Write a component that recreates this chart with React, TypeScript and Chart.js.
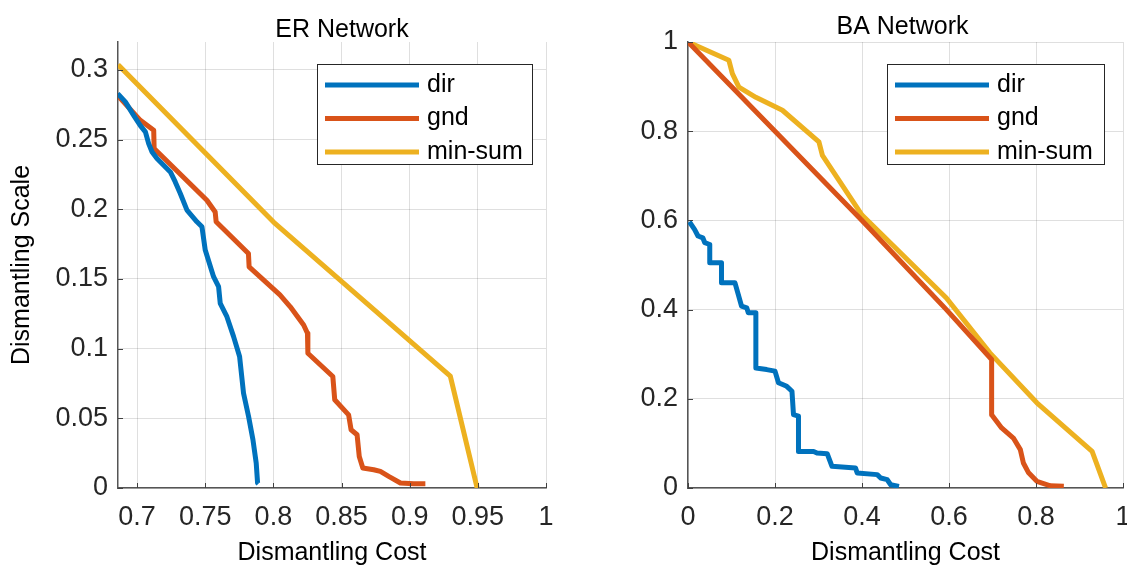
import React, { useEffect, useRef } from "react";
import { Chart, registerables } from "chart.js";

Chart.register(...registerables);

// ---------- data ----------
const seriesLabels = ["dir", "gnd", "min-sum"];
const seriesColors = ["#0072BD", "#D95319", "#EDB120"];

// ER network
const erDirX = [0.6858, 0.6914, 0.6975, 0.7024, 0.7061, 0.7085, 0.711, 0.7146, 0.7244, 0.728, 0.7317, 0.7366, 0.7439, 0.7476, 0.75, 0.7561, 0.7598, 0.761, 0.7659, 0.7708, 0.7752, 0.7781, 0.7818, 0.785, 0.7874, 0.7884, 0.789];
const erDirY = [0.283, 0.277, 0.2674, 0.26, 0.2555, 0.2471, 0.2411, 0.2364, 0.2268, 0.2196, 0.2113, 0.1994, 0.191, 0.1874, 0.1707, 0.1516, 0.1444, 0.1325, 0.1229, 0.1086, 0.0943, 0.068, 0.0513, 0.0346, 0.0179, 0.0036, 0.003];
const erGndX = [0.6858, 0.7024, 0.7122, 0.7125, 0.7512, 0.7573, 0.758, 0.7817, 0.7822, 0.8048, 0.8124, 0.8222, 0.825, 0.8253, 0.8436, 0.845, 0.8552, 0.857, 0.8614, 0.863, 0.8656, 0.8736, 0.8785, 0.8846, 0.8932, 0.903, 0.9115];
const erGndY = [0.2817, 0.2638, 0.2567, 0.2436, 0.2065, 0.198, 0.191, 0.1683, 0.1587, 0.1385, 0.13, 0.117, 0.111, 0.0967, 0.08, 0.0633, 0.0525, 0.0418, 0.0382, 0.0226, 0.0143, 0.0131, 0.0119, 0.0083, 0.0036, 0.003, 0.003];
const erMinSumX = [0.6861, 0.8001, 0.9298, 0.9495];
const erMinSumY = [0.3037, 0.1908, 0.0803, 0.0];

// BA network
const baDirX = [0.003, 0.015, 0.023, 0.034, 0.0386, 0.05, 0.05, 0.077, 0.077, 0.108, 0.1155, 0.123, 0.135, 0.1386, 0.156, 0.156, 0.181, 0.2, 0.208, 0.227, 0.239, 0.2425, 0.254, 0.254, 0.2887, 0.2965, 0.32, 0.331, 0.385, 0.389, 0.435, 0.443, 0.458, 0.466, 0.485];
const baDirY = [0.597, 0.58, 0.565, 0.561, 0.55, 0.546, 0.505, 0.505, 0.46, 0.46, 0.434, 0.408, 0.404, 0.393, 0.393, 0.269, 0.2655, 0.262, 0.236, 0.228, 0.217, 0.1645, 0.161, 0.082, 0.082, 0.0785, 0.077, 0.0485, 0.045, 0.0337, 0.03, 0.0224, 0.0186, 0.0074, 0.0036];
const baGndX = [0.0, 0.2, 0.4, 0.594, 0.698, 0.698, 0.721, 0.748, 0.764, 0.771, 0.783, 0.802, 0.833, 0.864];
const baGndY = [1.0, 0.8, 0.6, 0.4, 0.288, 0.1645, 0.1347, 0.112, 0.086, 0.056, 0.034, 0.015, 0.005, 0.004];
const baMinSumX = [0.0, 0.094, 0.102, 0.117, 0.156, 0.217, 0.301, 0.309, 0.4, 0.594, 0.694, 0.802, 0.929, 0.96];
const baMinSumY = [1.0, 0.959, 0.929, 0.899, 0.876, 0.847, 0.776, 0.746, 0.612, 0.426, 0.303, 0.191, 0.082, 0.0];

// ticks
const erXTicks = [0.7, 0.75, 0.8, 0.85, 0.9, 0.95, 1];
const erYTicks = [0, 0.05, 0.1, 0.15, 0.2, 0.25, 0.3];
const baXTicks = [0, 0.2, 0.4, 0.6, 0.8, 1];
const baYTicks = [0, 0.2, 0.4, 0.6, 0.8, 1];

const FONT = "'Liberation Sans', Arial, Helvetica, sans-serif";

function zip(xs: number[], ys: number[]) {
  return xs.map((x, i) => ({ x, y: ys[i] }));
}

function fmt(v: number) {
  return String(parseFloat(Number(v).toFixed(2)));
}

const decorPlugin = {
  id: "decor",
  afterDraw(chart: any, _args: any, opts: any) {
    const { ctx, chartArea: a } = chart;
    const xs = chart.scales.x;
    const ys = chart.scales.y;
    ctx.save();
    // inward tick marks
    ctx.strokeStyle = "#404040";
    ctx.lineWidth = 1;
    ctx.beginPath();
    xs.ticks.forEach((t: any) => {
      const px = Math.round(xs.getPixelForValue(t.value)) + 0.5;
      ctx.moveTo(px, a.bottom);
      ctx.lineTo(px, a.bottom - 5);
    });
    ys.ticks.forEach((t: any) => {
      const py = Math.round(ys.getPixelForValue(t.value)) + 0.5;
      ctx.moveTo(a.left, py);
      ctx.lineTo(a.left + 5, py);
    });
    ctx.stroke();

    // panel title
    ctx.font = `25px ${FONT}`;
    ctx.fillStyle = "#000";
    ctx.textAlign = "center";
    ctx.textBaseline = "middle";
    ctx.fillText(opts.title, (a.left + a.right) / 2 + opts.titleDx, opts.titleY);

    // legend
    const w = opts.legendW;
    const h = opts.legendH;
    const lx = Math.round(a.right - opts.legendRight - w);
    const ly = Math.round(a.top + opts.legendTop);
    ctx.fillStyle = "#fff";
    ctx.fillRect(lx, ly, w, h);
    ctx.strokeStyle = "#262626";
    ctx.lineWidth = 1;
    ctx.strokeRect(lx + 0.5, ly + 0.5, w, h);
    chart.data.datasets.forEach((ds: any, i: number) => {
      const ry = ly + 21 + i * 33.5;
      ctx.strokeStyle = ds.borderColor;
      ctx.lineWidth = 5;
      ctx.lineCap = "butt";
      ctx.beginPath();
      ctx.moveTo(lx + 8, ry);
      ctx.lineTo(lx + 102, ry);
      ctx.stroke();
      ctx.fillStyle = "#000";
      ctx.font = `25px ${FONT}`;
      ctx.textAlign = "left";
      ctx.textBaseline = "middle";
      ctx.fillText(ds.label, lx + 110, ry);
    });
    ctx.restore();
  },
};

type PanelProps = {
  left: number;
  width: number;
  series: { x: number[]; y: number[] }[];
  xMin: number;
  xMax: number;
  yMax: number;
  xTicks: number[];
  yTicks: number[];
  yWidth: number;
  padRight: number;
  title: string;
  titleDx: number;
  titleY: number;
  yTitle?: string;
  legendRight: number;
  legendW: number;
};

function Panel(p: PanelProps) {
  const ref = useRef<HTMLCanvasElement>(null);
  useEffect(() => {
    if (!ref.current) return;
    const chart = new Chart(ref.current, {
      type: "scatter",
      data: {
        datasets: p.series.map((s, i) => ({
          label: seriesLabels[i],
          data: zip(s.x, s.y),
          showLine: true,
          borderColor: seriesColors[i],
          backgroundColor: seriesColors[i],
          borderWidth: 5,
          pointRadius: 0,
          pointHoverRadius: 0,
          tension: 0,
          borderJoinStyle: "round",
          borderCapStyle: "butt",
        })),
      },
      options: {
        animation: false,
        responsive: false,
        devicePixelRatio: 1,
        layout: { padding: { top: 42, left: 0, right: p.padRight, bottom: 0 } },
        plugins: {
          legend: { display: false },
          title: { display: false },
          tooltip: { enabled: false },
          decor: {
            title: p.title,
            titleDx: p.titleDx,
            titleY: p.titleY,
            legendRight: p.legendRight,
            legendTop: 22,
            legendW: p.legendW,
            legendH: 100,
          },
        } as any,
        scales: {
          x: {
            type: "linear",
            min: p.xMin,
            max: p.xMax,
            afterBuildTicks: (s: any) => {
              s.ticks = p.xTicks.map((v) => ({ value: v }));
            },
            afterFit: (s: any) => {
              s.height = 81;
              s.paddingLeft = 0;
              s.paddingRight = 0;
            },
            ticks: {
              autoSkip: false,
              maxRotation: 0,
              padding: 13,
              color: "#262626",
              font: { family: FONT, size: 27 },
              callback: (v: any) => fmt(v),
            },
            grid: { color: "rgba(38,38,38,0.15)", lineWidth: 1, drawTicks: false },
            border: { display: true, color: "#555", width: 1.5 },
            title: {
              display: true,
              text: "Dismantling Cost",
              color: "#000",
              font: { family: FONT, size: 25 },
              padding: { top: 0, bottom: 1 },
            },
          },
          y: {
            type: "linear",
            min: 0,
            max: p.yMax,
            afterBuildTicks: (s: any) => {
              s.ticks = p.yTicks.map((v) => ({ value: v }));
            },
            afterFit: (s: any) => {
              s.width = p.yWidth;
              s.paddingTop = 0;
              s.paddingBottom = 0;
            },
            ticks: {
              autoSkip: false,
              padding: 10,
              color: "#262626",
              font: { family: FONT, size: 27 },
              callback: (v: any) => fmt(v),
            },
            grid: { color: "rgba(38,38,38,0.15)", lineWidth: 1, drawTicks: false },
            border: { display: true, color: "#555", width: 1.5 },
            title: {
              display: !!p.yTitle,
              text: p.yTitle || "",
              color: "#000",
              font: { family: FONT, size: 25 },
              padding: { top: 7, bottom: 0 },
            },
          },
        },
      },
      plugins: [decorPlugin],
    } as any);
    return () => chart.destroy();
  }, []);
  return (
    <canvas
      ref={ref}
      width={p.width}
      height={569}
      style={{ position: "absolute", left: p.left, top: 0, width: p.width, height: 569, display: "block" }}
    />
  );
}

export default function App() {
  return (
    <div style={{ position: "absolute", left: 0, top: 0, width: 1127, height: 569, background: "#fff", overflow: "hidden" }}>
      <Panel
        left={0}
        width={563}
        series={[
          { x: erDirX, y: erDirY },
          { x: erGndX, y: erGndY },
          { x: erMinSumX, y: erMinSumY },
        ]}
        xMin={0.686}
        xMax={1}
        yMax={0.32}
        xTicks={erXTicks}
        yTicks={erYTicks}
        yWidth={118}
        padRight={17}
        title="ER Network"
        titleDx={10}
        titleY={30}
        yTitle="Dismantling Scale"
        legendRight={14}
        legendW={215}
      />
      <Panel
        left={563}
        width={564}
        series={[
          { x: baDirX, y: baDirY },
          { x: baGndX, y: baGndY },
          { x: baMinSumX, y: baMinSumY },
        ]}
        xMin={0}
        xMax={1}
        yMax={1}
        xTicks={baXTicks}
        yTicks={baYTicks}
        yWidth={125}
        padRight={4}
        title="BA Network"
        titleDx={-3}
        titleY={27}
        legendRight={19}
        legendW={217}
      />
    </div>
  );
}
